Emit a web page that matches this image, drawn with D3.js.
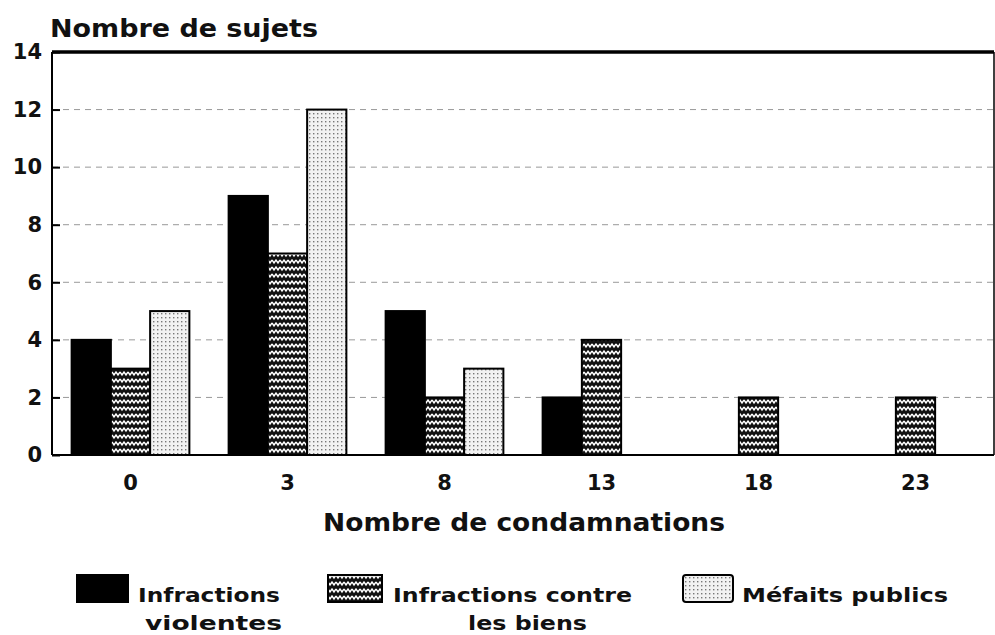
<!DOCTYPE html>
<html><head><meta charset="utf-8">
<script src="https://cdn.jsdelivr.net/npm/d3@7/dist/d3.min.js"></script>
<style>body{margin:0;background:#fff}svg{display:block}text{font-family:"DejaVu Sans",sans-serif;font-weight:bold;fill:#111}</style>
</head><body><svg id="c" width="995" height="635"></svg>
<script>
const categories = ["0","3","8","13","18","23"];
const seriesNames = ["Infractions violentes","Infractions contre les biens","Méfaits publics"];
const violentes = [4,9,5,2,0,0];
const biens = [3,7,2,4,2,2];
const mefaits = [5,12,3,0,0,0];
const yTicks = [0,2,4,6,8,10,12,14];

const svg = d3.select("#c");
const defs = svg.append("defs");
const zz = defs.append("pattern").attr("id","zig").attr("patternUnits","userSpaceOnUse").attr("width",8).attr("height",7);
zz.append("rect").attr("width",8).attr("height",7).attr("fill","#111");
zz.append("path").attr("d","M0,1 L2,4 L4,1 L6,4 L8,1").attr("fill","none").attr("stroke","#fff").attr("stroke-width",1.4);
const dp = defs.append("pattern").attr("id","dots").attr("patternUnits","userSpaceOnUse").attr("width",4).attr("height",4);
dp.append("rect").attr("width",4).attr("height",4).attr("fill","#f2f2f2");
dp.append("rect").attr("x",1).attr("y",1).attr("width",1.4).attr("height",1.4).attr("fill","#777");
const fills = ["#000","url(#zig)","url(#dots)"];

const L=52,R=994,T=52,B=455;
const x = d3.scaleBand().domain(categories).range([L,R]).paddingInner(0.25).paddingOuter(0.125);
const xs = d3.scaleBand().domain([0,1,2]).range([0,x.bandwidth()]);
const y = d3.scaleLinear().domain([0,14]).range([B,T]);

svg.append("g").selectAll("line").data(yTicks.filter(d=>d>0&&d<14)).join("line")
  .attr("x1",L).attr("x2",R).attr("y1",d=>y(d)).attr("y2",d=>y(d))
  .attr("stroke","#999").attr("stroke-width",1).attr("stroke-dasharray","6,5");

const data = [violentes,biens,mefaits];
data.forEach((vals,si)=>{
  svg.append("g").selectAll("rect").data(vals.map((v,i)=>({c:categories[i],v})).filter(d=>d.v>0)).join("rect")
    .attr("x",d=>x(d.c)+xs(si)).attr("width",xs.bandwidth())
    .attr("y",d=>y(d.v)).attr("height",d=>B-y(d.v))
    .attr("fill",fills[si]).attr("stroke","#000").attr("stroke-width",2);
});

const ya = svg.append("g").attr("transform",`translate(${L},0)`)
  .call(d3.axisLeft(y).tickValues(yTicks).tickSize(-8).tickPadding(10).tickFormat(d3.format("d")));
ya.select(".domain").remove();
ya.selectAll("line").attr("stroke","#000").attr("stroke-width",2);
ya.selectAll("text").attr("font-size",21).style("font-family","DejaVu Sans, sans-serif").style("font-weight","bold").attr("fill","#111");
const xa = svg.append("g").attr("transform",`translate(0,${B})`)
  .call(d3.axisBottom(x).tickSize(0).tickPadding(20));
xa.select(".domain").remove();
xa.selectAll("text").attr("font-size",21).style("font-family","DejaVu Sans, sans-serif").style("font-weight","bold").attr("fill","#111");

svg.append("line").attr("x1",L).attr("x2",L).attr("y1",T).attr("y2",B).attr("stroke","#000").attr("stroke-width",2);
svg.append("line").attr("x1",L).attr("x2",R).attr("y1",B).attr("y2",B).attr("stroke","#000").attr("stroke-width",2);
svg.append("line").attr("x1",L).attr("x2",R).attr("y1",T).attr("y2",T).attr("stroke","#000").attr("stroke-width",3.5);
svg.append("line").attr("x1",R).attr("x2",R).attr("y1",T).attr("y2",B).attr("stroke","#000").attr("stroke-width",1.5);

svg.append("text").attr("x",50).attr("y",37).attr("font-size",24).attr("textLength",268).attr("lengthAdjust","spacingAndGlyphs").text("Nombre de sujets");
svg.append("text").attr("x",323).attr("y",531).attr("font-size",25).attr("textLength",402).attr("lengthAdjust","spacingAndGlyphs").text("Nombre de condamnations");

const leg = [
  {x:77,w:51,tx:138,l1:"Infractions",w1:142,l2:"violentes",x2:145,w2:137},
  {x:328,w:54,tx:393,l1:"Infractions contre",w1:239,l2:"les biens",x2:468,w2:119},
  {x:683,w:50,tx:742,l1:"Méfaits publics",w1:206,l2:"",x2:0,w2:0}
];
leg.forEach((d,i)=>{
  svg.append("rect").attr("x",d.x).attr("y",575).attr("width",d.w).attr("height",27)
    .attr("fill",fills[i]).attr("stroke","#000").attr("stroke-width",2).attr("rx",i==2?3:0);
  svg.append("text").attr("x",d.tx).attr("y",602).attr("font-size",20).attr("textLength",d.w1).attr("lengthAdjust","spacingAndGlyphs").text(d.l1);
  if(d.l2) svg.append("text").attr("x",d.x2).attr("y",630).attr("font-size",20).attr("textLength",d.w2).attr("lengthAdjust","spacingAndGlyphs").text(d.l2);
});
</script></body></html>
